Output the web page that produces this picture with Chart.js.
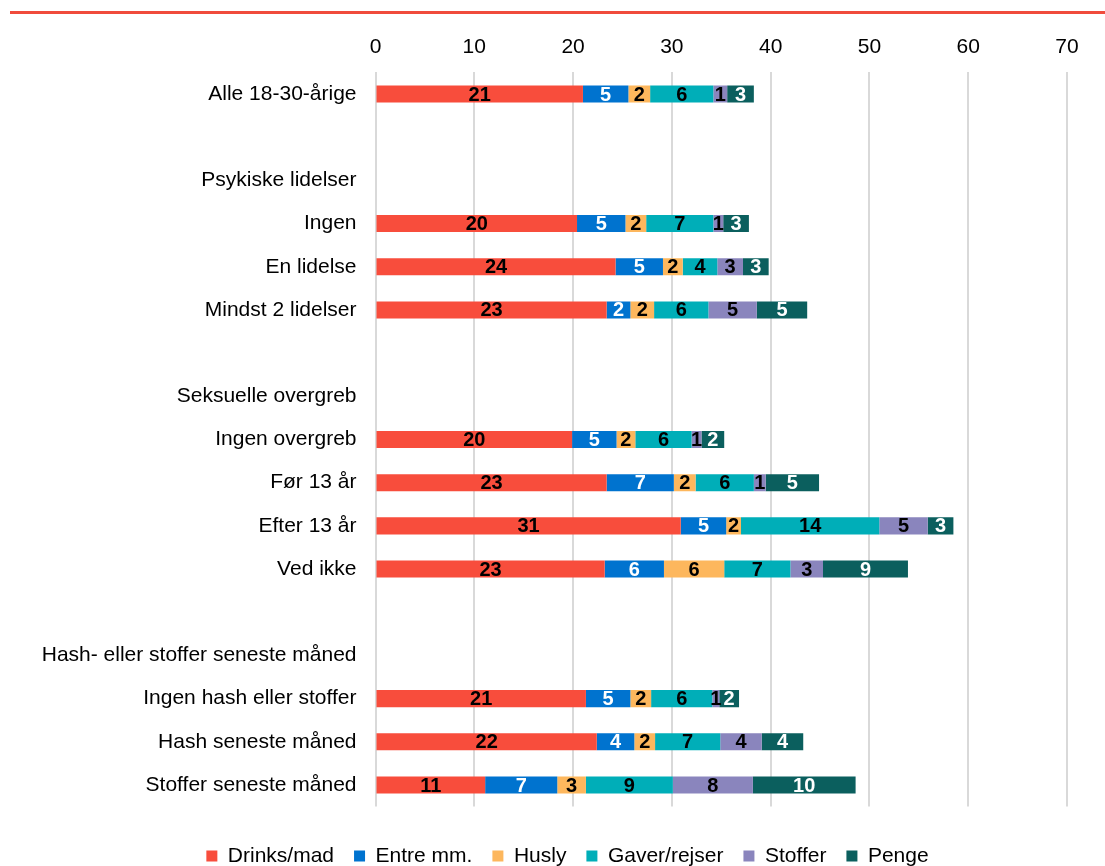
<!DOCTYPE html>
<html>
<head>
<meta charset="utf-8">
<script src="https://cdn.jsdelivr.net/npm/chart.js@4.4.1/dist/chart.umd.min.js"></script>
<style>
  html, body { margin: 0; padding: 0; background: #fff; overflow: hidden; }
  #wrap { position: relative; width: 1105px; height: 866px; }
  #topline { position: absolute; left: 10px; top: 11px; width: 1095px; height: 3px; background: #F04B3C; }
  #c { position: absolute; left: 0; top: 0; }
</style>
</head>
<body>
<div id="wrap">
  <div id="topline"></div>
  <canvas id="c" width="1105" height="866"></canvas>
</div>
<script>
// ---- Data ----
const categories = [
  'Alle 18-30-årige', '', 'Psykiske lidelser', 'Ingen', 'En lidelse', 'Mindst 2 lidelser', '',
  'Seksuelle overgreb', 'Ingen overgreb', 'Før 13 år', 'Efter 13 år', 'Ved ikke', '',
  'Hash- eller stoffer seneste måned', 'Ingen hash eller stoffer', 'Hash seneste måned', 'Stoffer seneste måned'
];
const seriesNames = ['Drinks/mad', 'Entre mm.', 'Husly', 'Gaver/rejser', 'Stoffer', 'Penge'];
const drinksMad  = [21.0, null, null, 20.4, 24.3, 23.4, null, null, 19.9, 23.4, 30.9, 23.2, null, null, 21.3, 22.4, 11.1];
const entreMm    = [4.6,  null, null, 4.9,  4.8,  2.4,  null, null, 4.5,  6.8,  4.6,  6.0,  null, null, 4.5,  3.8,  7.3];
const husly      = [2.2,  null, null, 2.1,  2.0,  2.4,  null, null, 1.9,  2.2,  1.5,  6.1,  null, null, 2.1,  2.1,  2.9];
const gaverRejser= [6.4,  null, null, 6.8,  3.5,  5.5,  null, null, 5.7,  5.9,  14.0, 6.7,  null, null, 6.2,  6.6,  8.8];
const stoffer    = [1.4,  null, null, 1.0,  2.6,  4.9,  null, null, 1.0,  1.2,  4.9,  3.3,  null, null, 0.7,  4.2,  8.1];
const penge      = [2.7,  null, null, 2.6,  2.6,  5.1,  null, null, 2.3,  5.4,  2.6,  8.6,  null, null, 2.0,  4.2,  10.4];
const xTickValues = [0, 10, 20, 30, 40, 50, 60, 70];

// ---- Styles ----
const seriesColors = ['#F84D3C', '#0073CF', '#FDB75D', '#00AEB8', '#8A85BD', '#0B5F5E'];
const labelColors  = ['#000000', '#FFFFFF', '#000000', '#000000', '#000000', '#FFFFFF'];
const FONT = '"Liberation Sans", Arial, sans-serif';

const seriesData = [drinksMad, entreMm, husly, gaverRejser, stoffer, penge];

const valueLabels = {
  id: 'valueLabels',
  afterDatasetsDraw(chart) {
    const ctx = chart.ctx;
    ctx.save();
    ctx.font = 'bold 20px ' + FONT;
    ctx.textAlign = 'center';
    ctx.textBaseline = 'middle';
    chart.data.datasets.forEach((ds, di) => {
      const meta = chart.getDatasetMeta(di);
      if (meta.hidden) return;
      meta.data.forEach((bar, i) => {
        const v = ds.data[i];
        if (v == null) return;
        const cx = (bar.x + bar.base) / 2;
        ctx.fillStyle = labelColors[di];
        ctx.fillText(String(Math.round(v)), cx, bar.y + 1);
      });
    });
    ctx.restore();
  }
};

new Chart(document.getElementById('c'), {
  type: 'bar',
  data: {
    labels: categories,
    datasets: seriesNames.map((name, i) => ({
      label: name,
      data: seriesData[i],
      backgroundColor: seriesColors[i],
      borderWidth: 0,
      categoryPercentage: 1,
      barPercentage: 0.394
    }))
  },
  options: {
    indexAxis: 'y',
    responsive: false,
    animation: false,
    devicePixelRatio: 1,
    layout: { padding: { left: 30, right: 0, top: 0, bottom: -10.5 } },
    scales: {
      x: {
        position: 'top',
        stacked: true,
        min: 0, max: 70,
        afterBuildTicks(scale) { scale.ticks = xTickValues.map(v => ({ value: v })); },
        afterFit(scale) { scale.height = 72.4; scale.paddingRight = 38; },
        grid: { color: '#D9D9D9', lineWidth: 2, drawTicks: false },
        border: { display: false },
        ticks: { color: '#000', padding: 13, font: { family: FONT, size: 21 } }
      },
      y: {
        stacked: true,
        afterFit(scale) { scale.width = 345.5; },
        grid: { display: false, drawTicks: false },
        border: { display: false },
        ticks: { color: '#000', padding: 19, font: { family: FONT, size: 21 }, autoSkip: false }
      }
    },
    plugins: {
      legend: {
        position: 'bottom',
        title: { display: true, text: '', padding: 0, font: { size: 15.75 } },
        labels: {
          boxWidth: 11, boxHeight: 11, padding: 20, color: '#000',
          font: { family: FONT, size: 21 }
        }
      },
      tooltip: { enabled: false }
    }
  },
  plugins: [valueLabels]
});
</script>
</body>
</html>
